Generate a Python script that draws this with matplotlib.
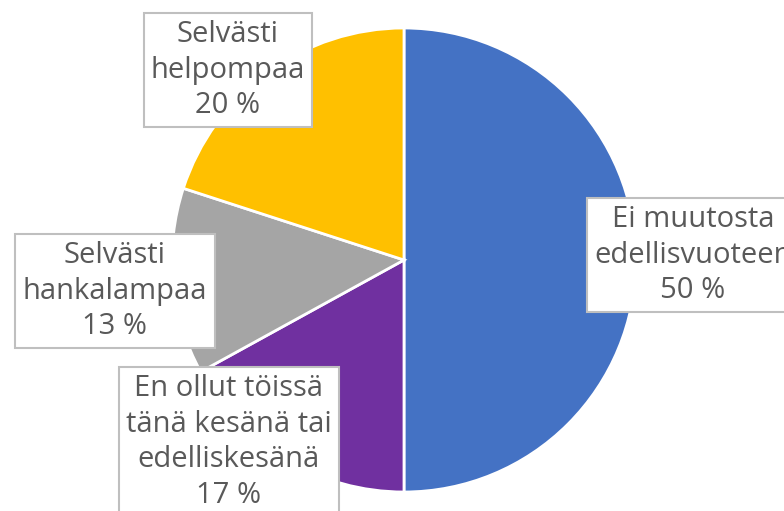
import matplotlib
matplotlib.use("Agg")
import matplotlib.pyplot as plt

labels = ["Ei muutosta\nedellisvuoteen", "En ollut töissä\ntänä kesänä tai\nedelliskesänä",
          "Selvästi\nhankalampaa", "Selvästi\nhelpompaa"]
values = [50, 17, 13, 20]
colors = ["#4472C4", "#7030A0", "#A5A5A5", "#FFC000"]
# label box centres, in pixels from the top-left
label_pos = [(693, 255), (229, 442), (115, 291), (228, 70)]

W, H = 784, 511
fig = plt.figure(figsize=(W / 100, H / 100), dpi=100)
ax = fig.add_axes([0, 0, 1, 1])

ax.pie(values, colors=colors, startangle=90, counterclock=False,
       center=(404, H - 260), radius=232,
       wedgeprops=dict(edgecolor="white", linewidth=2))

ax.set_xlim(0, W)
ax.set_ylim(0, H)
ax.set_aspect("equal")
ax.axis("off")

for lab, v, (x, y) in zip(labels, values, label_pos):
    ax.text(x, H - y, f"{lab}\n{v} %", ha="center", va="center",
            fontsize=21, color="#595959", family="Open Sans",
            linespacing=1.3,
            bbox=dict(boxstyle="square,pad=0.25", fc="white", ec="#BFBFBF", lw=1.5))

fig.savefig("out.png", dpi=100)
